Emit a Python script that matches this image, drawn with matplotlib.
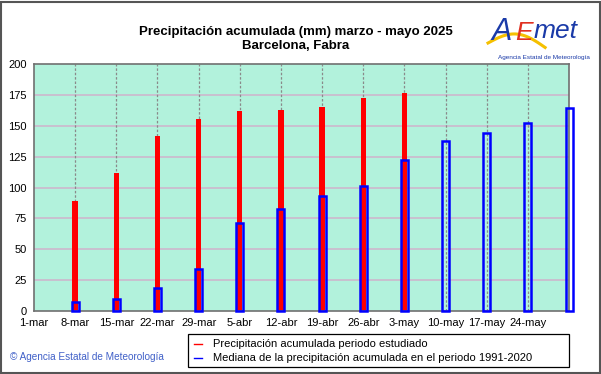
import numpy as np
import matplotlib
matplotlib.use('Agg')
import matplotlib.pyplot as plt
from matplotlib.patches import Rectangle
from matplotlib.lines import Line2D

# weekly tick labels (1-mar ... 24-may); the last median bar sits on 31-may
week_labels = ['1-mar', '8-mar', '15-mar', '22-mar', '29-mar', '5-abr', '12-abr',
               '19-abr', '26-abr', '3-may', '10-may', '17-may', '24-may']
# accumulated precipitation in the studied period (8-mar .. 3-may)
observed = [89, 112, 141.5, 155.5, 162, 163, 165, 172.5, 176.5]
# median accumulated precipitation 1991-2020 (8-mar .. 31-may)
median = [7.5, 10, 19, 34, 71, 82.5, 93, 101, 122.5, 137.5, 144, 152, 164]

title = 'Precipitación acumulada (mm) marzo - mayo 2025\nBarcelona, Fabra'
legend_labels = ['Precipitación acumulada periodo estudiado',
                 'Mediana de la precipitación acumulada en el periodo 1991-2020']

plt.rcParams['font.family'] = ['Liberation Sans', 'DejaVu Sans']

fig = plt.figure(figsize=(6.01, 3.74), dpi=100)
fig.patch.set_facecolor('white')
ax = fig.add_axes([0.0566, 0.1684, 0.8902, 0.6605])
ax.set_facecolor('#b2f2dc')

x_obs = np.arange(1, len(observed) + 1)
x_med = np.arange(1, len(median) + 1)

# grid: horizontal solid purplish, vertical dashed grey
for yv in np.arange(25, 200, 25):
    ax.axhline(yv, color='#cdb8cd', lw=1.2, zorder=1)
for xv in range(1, 13):
    ax.axvline(xv, color='#8a8a8a', lw=0.9, ls=(0, (2, 1.5)), zorder=1)

ax.bar(x_obs, observed, width=0.13, color='#ff0000', zorder=2, clip_on=False)
ax.bar(x_med, median, width=0.17, facecolor='none', edgecolor='#0000ff',
       lw=1.8, zorder=3, clip_on=False)

ax.set_xlim(0, 13)
ax.set_ylim(0, 200)
ax.set_xticks(range(13))
ax.set_xticklabels(week_labels, fontsize=8)
ax.set_yticks(np.arange(0, 201, 25))
ax.tick_params(axis='y', labelsize=8, length=0, pad=5)
ax.tick_params(axis='x', length=0, pad=5)
for s in ax.spines.values():
    s.set_color('#707070')
    s.set_linewidth(1.2)

fig.text(0.492, 0.895, title, ha='center', va='center', fontsize=9.5,
         fontweight='bold', linespacing=1.2)

# AEMET logo (approximation)
fig.text(0.818, 0.915, 'A', color='#1a3aa8', fontsize=22, style='italic',
         fontweight='light', ha='left', va='center')
fig.text(0.858, 0.912, 'E', color='#e03020', fontsize=19, style='italic',
         ha='left', va='center')
fig.text(0.888, 0.918, 'met', color='#1a3aa8', fontsize=19, style='italic',
         ha='left', va='center')
t = np.linspace(0, 1, 30)
fig.add_artist(Line2D(0.812 + 0.095 * t, 0.885 + 0.03 * np.sin(np.pi * t) - 0.012 * t,
                      color='#f5c000', lw=2.2, transform=fig.transFigure))
fig.text(0.905, 0.847, 'Agencia Estatal de Meteorología', color='#1a3aa8',
         fontsize=4.6, ha='center', va='center')

fig.text(0.017, 0.045, '© Agencia Estatal de Meteorología', color='#4060c8',
         fontsize=7.2, ha='left', va='center')

# legend box
fig.add_artist(Rectangle((0.313, 0.019), 0.634, 0.088, transform=fig.transFigure,
                         facecolor='white', edgecolor='black', lw=0.9))
fig.add_artist(Line2D([0.323, 0.336], [0.080, 0.080], color='red', lw=1,
                      transform=fig.transFigure))
fig.add_artist(Line2D([0.323, 0.336], [0.043, 0.043], color='blue', lw=1,
                      transform=fig.transFigure))
fig.text(0.355, 0.080, legend_labels[0], fontsize=8, va='center')
fig.text(0.355, 0.043, legend_labels[1], fontsize=8, va='center')

# outer frame
fig.add_artist(Rectangle((0.002, 0.003), 0.996, 0.992, transform=fig.transFigure,
                         facecolor='none', edgecolor='#555555', lw=1.5))

fig.savefig('out.png', dpi=100)
